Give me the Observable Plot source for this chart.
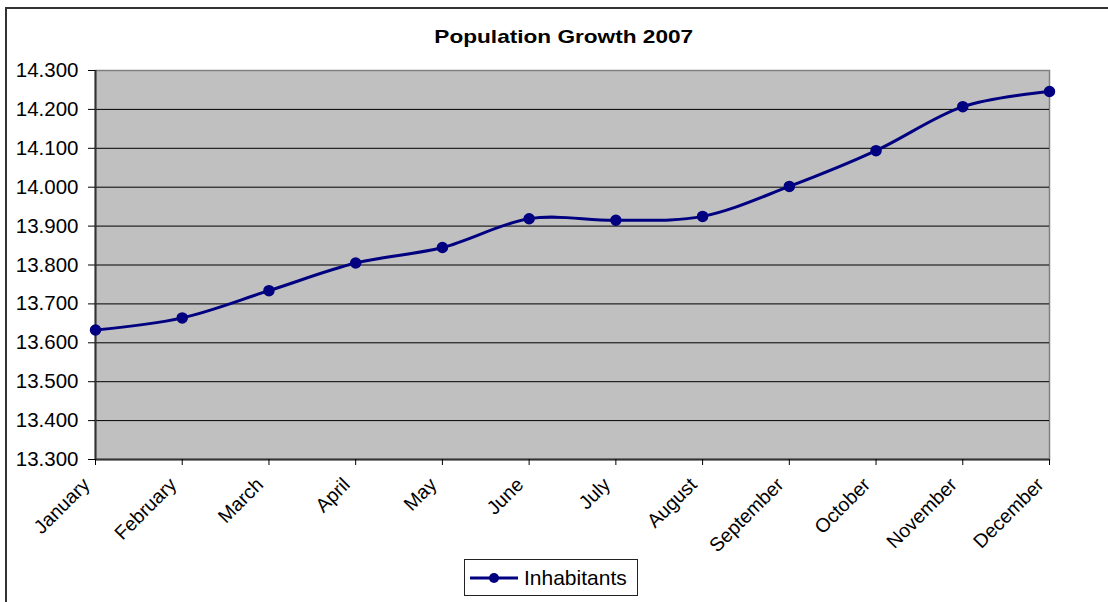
<!DOCTYPE html>
<html>
<head>
<meta charset="utf-8">
<script src="https://cdn.jsdelivr.net/npm/d3@7"></script>
<script src="https://cdn.jsdelivr.net/npm/@observablehq/plot@0.6"></script>
<style>
  html, body { margin: 0; padding: 0; background: #fff; }
  #wrap { position: relative; width: 1108px; height: 602px; overflow: hidden;
          font-family: "Liberation Sans", Arial, sans-serif; }
  #border { position: absolute; left: 5px; top: 7px; width: 1200px; height: 700px;
            border: 2px solid #333; box-sizing: border-box; }
  #chart { position: absolute; left: 0; top: 0; }
  #title { position: absolute; left: 0; top: 27px; width: 1127px; text-align: center;
           font-size: 19px; line-height: 19px; font-weight: bold; color: #000; }
  #title span { display: inline-block; transform: scaleX(1.19); }
  #legend { position: absolute; left: 464px; top: 559px; width: 174px; height: 37px;
            box-sizing: border-box; border: 1px solid #222; background: #fff;
            display: flex; align-items: center; }
  #legend svg { margin-left: 4px; }
  #legend span { font-size: 21px; margin-left: 5px; color: #000; }
</style>
</head>
<body>
<div id="wrap">
  <div id="border"></div>
  <div id="chart"></div>
  <div id="title"><span>Population Growth 2007</span></div>
  <div id="legend"></div>
</div>
<script>
// Monthly inhabitants, 2007
const months = ["January", "February", "March", "April", "May", "June",
                "July", "August", "September", "October", "November", "December"];
const inhabitants = [13.633, 13.664, 13.734, 13.805, 13.845, 13.919,
                     13.915, 13.925, 14.002, 14.094, 14.207, 14.246];
const yTicks = [13.3, 13.4, 13.5, 13.6, 13.7, 13.8, 13.9, 14.0, 14.1, 14.2, 14.3];
const seriesName = "Inhabitants";

const rows = months.map((m, i) => ({month: m, value: inhabitants[i]}));
const navy = "#000080";

const chart = Plot.plot({
  width: 1108,
  height: 602,
  marginLeft: 95,
  marginRight: 59,
  marginTop: 70,
  marginBottom: 143,
  style: {fontFamily: "'Liberation Sans', Arial, sans-serif", background: "transparent", color: "#000"},
  x: {type: "point", domain: months, padding: 0, round: false, label: null},
  y: {domain: [yTicks[0], yTicks[yTicks.length - 1]], label: null},
  marks: [
    Plot.frame({fill: "#c0c0c0", stroke: "#808080", strokeWidth: 1.5}),
    Plot.ruleY(yTicks.slice(1, -1), {stroke: "#000", strokeWidth: 1}),
    Plot.ruleY([yTicks[0]], {stroke: "#333", strokeWidth: 2}),
    Plot.ruleX([months[0]], {stroke: "#333", strokeWidth: 2}),
    Plot.axisY({ticks: yTicks, tickFormat: d => d.toFixed(3), tickSize: 7, tickPadding: 10,
                fontSize: 20.5, stroke: "#000"}),
    // month tick marks below the axis line
    Plot.axisX({tickSize: 6, tickFormat: () => "", stroke: "#000"}),
    // slanted month names
    Plot.axisX({tickSize: 0, tickRotate: -45, tickPadding: 6, fontSize: 19.5, dx: -9, dy: 16}),
    Plot.line(rows, {x: "month", y: "value", curve: "cardinal", stroke: navy, strokeWidth: 3}),
    Plot.dot(rows, {x: "month", y: "value", r: 5, fill: navy, stroke: navy})
  ]
});
document.getElementById("chart").appendChild(chart);

// Legend: line with marker, then the series name
const legend = document.getElementById("legend");
legend.innerHTML =
  `<svg width="50" height="14"><line x1="1" x2="49" y1="7" y2="7" stroke="${navy}" stroke-width="3"/>` +
  `<circle cx="25" cy="7" r="5" fill="${navy}"/></svg><span>${seriesName}</span>`;
</script>
</body>
</html>
